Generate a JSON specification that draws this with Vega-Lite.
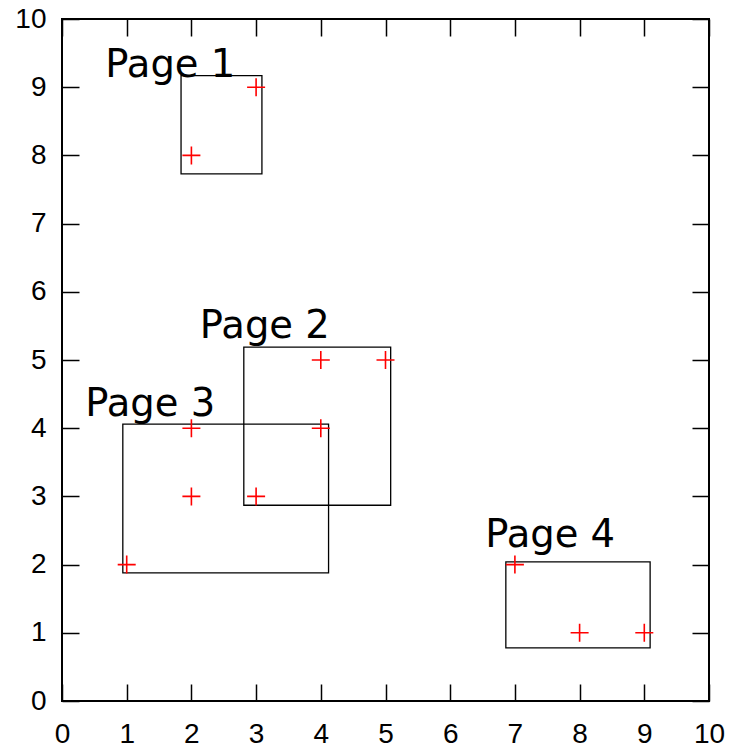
{
  "$schema": "https://vega.github.io/schema/vega-lite/v6.json",
  "width": 647,
  "height": 682,
  "autosize": {"type": "none"},
  "padding": {"left": 62, "top": 19, "right": 20, "bottom": 50},
  "background": "white",
  "config": {
    "view": {"stroke": "black", "strokeWidth": 2},
    "axis": {
      "domain": false,
      "grid": false,
      "tickColor": "black",
      "tickWidth": 1.5,
      "tickSize": -17,
      "labelColor": "black",
      "labelFont": "Liberation Sans",
      "labelFontSize": 28,
      "labelFlush": false,
      "labelOverlap": false,
      "labelBound": false,
      "title": null
    }
  },
  "layer": [
    {
      "data": {"values": [
        {"page": "Page 1", "x1": 1.84, "x2": 3.09, "y1": 7.73, "y2": 9.17},
        {"page": "Page 2", "x1": 2.81, "x2": 5.08, "y1": 2.87, "y2": 5.19},
        {"page": "Page 3", "x1": 0.94, "x2": 4.12, "y1": 1.88, "y2": 4.06},
        {"page": "Page 4", "x1": 6.86, "x2": 9.09, "y1": 0.78, "y2": 2.04}
      ]},
      "mark": {"type": "rect", "filled": false, "stroke": "black", "strokeWidth": 1.3},
      "encoding": {
        "x": {"field": "x1", "type": "quantitative", "scale": {"domain": [0, 10], "nice": false},
              "axis": {"orient": "bottom", "values": [0,1,2,3,4,5,6,7,8,9,10], "labelPadding": 36}},
        "x2": {"field": "x2"},
        "y": {"field": "y1", "type": "quantitative", "scale": {"domain": [0, 10], "nice": false},
              "axis": {"orient": "left", "values": [0,1,2,3,4,5,6,7,8,9,10], "labelPadding": 33}},
        "y2": {"field": "y2"}
      }
    },
    {
      "data": {"values": [
        {"x": 3, "y": 9}, {"x": 2, "y": 8},
        {"x": 4, "y": 5}, {"x": 5, "y": 5}, {"x": 4, "y": 4}, {"x": 3, "y": 3},
        {"x": 2, "y": 4}, {"x": 2, "y": 3}, {"x": 1, "y": 2},
        {"x": 7, "y": 2}, {"x": 8, "y": 1}, {"x": 9, "y": 1}
      ]},
      "mark": {"type": "point", "shape": "M-1,0L1,0M0,-1L0,1", "filled": false, "stroke": "red", "strokeWidth": 1.6, "size": 324, "opacity": 1},
      "encoding": {
        "x": {"field": "x", "type": "quantitative",
              "axis": {"orient": "top", "values": [0,1,2,3,4,5,6,7,8,9,10], "labels": false}},
        "y": {"field": "y", "type": "quantitative",
              "axis": {"orient": "right", "values": [0,1,2,3,4,5,6,7,8,9,10], "labels": false}}
      }
    },
    {
      "data": {"values": [
        {"label": "Page 1", "x": 0.67, "y": 9.15},
        {"label": "Page 2", "x": 2.13, "y": 5.32},
        {"label": "Page 3", "x": 0.36, "y": 4.18},
        {"label": "Page 4", "x": 6.54, "y": 2.26}
      ]},
      "mark": {"type": "text", "align": "left", "baseline": "alphabetic", "font": "DejaVu Sans", "fontSize": 38.5, "color": "black"},
      "encoding": {
        "x": {"field": "x", "type": "quantitative", "axis": null},
        "y": {"field": "y", "type": "quantitative", "axis": null},
        "text": {"field": "label"}
      }
    }
  ],
  "resolve": {"axis": {"x": "independent", "y": "independent"}}
}
